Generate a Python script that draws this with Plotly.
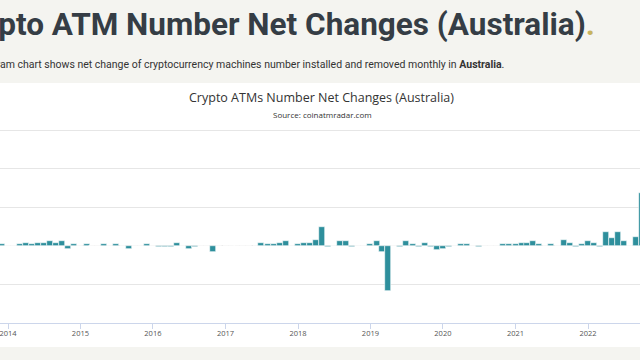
import plotly.graph_objects as go
import pandas as pd

# ---- data (monthly net change of crypto ATMs, Australia) ----
months = [
    "2013-12-01",
    "2014-01-01", "2014-02-01", "2014-03-01", "2014-04-01", "2014-05-01", "2014-06-01",
    "2014-07-01", "2014-08-01", "2014-09-01", "2014-10-01", "2014-11-01", "2014-12-01",
    "2015-01-01", "2015-02-01", "2015-03-01", "2015-04-01", "2015-05-01", "2015-06-01",
    "2015-07-01", "2015-08-01", "2015-09-01", "2015-10-01", "2015-11-01", "2015-12-01",
    "2016-01-01", "2016-02-01", "2016-03-01", "2016-04-01", "2016-05-01", "2016-06-01",
    "2016-07-01", "2016-08-01", "2016-09-01", "2016-10-01", "2016-11-01", "2016-12-01",
    "2017-01-01", "2017-02-01", "2017-03-01", "2017-04-01", "2017-05-01", "2017-06-01",
    "2017-07-01", "2017-08-01", "2017-09-01", "2017-10-01", "2017-11-01", "2017-12-01",
    "2018-01-01", "2018-02-01", "2018-03-01", "2018-04-01", "2018-05-01", "2018-06-01",
    "2018-07-01", "2018-08-01", "2018-09-01", "2018-10-01", "2018-11-01", "2018-12-01",
    "2019-01-01", "2019-02-01", "2019-03-01", "2019-04-01", "2019-05-01", "2019-06-01",
    "2019-07-01", "2019-08-01", "2019-09-01", "2019-10-01", "2019-11-01", "2019-12-01",
    "2020-01-01", "2020-02-01", "2020-03-01", "2020-04-01", "2020-05-01", "2020-06-01",
    "2020-07-01", "2020-08-01", "2020-09-01", "2020-10-01", "2020-11-01", "2020-12-01",
    "2021-01-01", "2021-02-01", "2021-03-01", "2021-04-01", "2021-05-01", "2021-06-01",
    "2021-07-01", "2021-08-01", "2021-09-01", "2021-10-01", "2021-11-01", "2021-12-01",
    "2022-01-01", "2022-02-01", "2022-03-01", "2022-04-01", "2022-05-01", "2022-06-01",
    "2022-07-01", "2022-08-01", "2022-09-01", "2022-10-01",
]
net_change = [
    1,
    0, 0, 1, 2, 1, 2, 2, 3, 2, 3, -2, 1,
    0, 1, 0, 0, 1, 0, 1, 0, -2, 0, 0, 1,
    0, -1, -1, -1, 2, 0, -2, -1, 0, 0, -4, 0,
    0, 0, 0, 0, 0, 0, 2, 1, 1, 2, 3, 0,
    1, 2, 2, 4, 12, -1, 0, 3, 3, -1, 0, 0,
    1, 3, -4, -29, 0, -1, 3, 1, -1, 2, -1, -3,
    -2, -1, 0, 1, 1, 0, -1, 0, 0, 0, 1, 1,
    1, 2, 2, 3, 1, 0, 1, 0, 4, 2, -1, 1,
    3, 2, -1, 9, 5, 9, 3, 0, 6, 34,
]
year_ticks = ["2014-01-01", "2015-01-01", "2016-01-01", "2017-01-01", "2018-01-01",
              "2019-01-01", "2020-01-01", "2021-01-01", "2022-01-01"]
year_labels = ["2014", "2015", "2016", "2017", "2018", "2019", "2020", "2021", "2022"]

page_title = "Crypto ATM Number Net Changes (Australia)"
page_sub = ("This histogram chart shows net change of cryptocurrency machines number "
            "installed and removed monthly in <b>Australia</b>.")
chart_title = "Crypto ATMs Number Net Changes (Australia)"
chart_source = "Source: coinatmradar.com"

# ---- layout geometry ----
W, H = 640, 360
ML, MR, MT, MB = 0, 0, 124, 37
PH = H - MT - MB
k = 193.0 / 125.0          # px per unit (gridlines every 25 units, ~38.6 px)
y_bottom = -50
y_top = y_bottom + PH / k


def py(p):
    return (H - MB - p) / PH


def px(p):
    return (p - ML) / (W - ML - MR)


# x range: 2014-01-01 at 8px, 2022-01-01 at 588px
t0 = pd.Timestamp("2014-01-01")
t1 = pd.Timestamp("2022-01-01")
per_px = (t1 - t0) / (588 - 8)
x_left = t0 - per_px * (8 - ML)
x_right = t1 + per_px * (W - MR - 588)

bar_w = pd.Timedelta(days=30.4).total_seconds() * 1000

fig = go.Figure()
fig.add_trace(go.Bar(
    x=months, y=net_change,
    width=bar_w,
    marker=dict(color="#2e8f9c", line=dict(color="#ffffff", width=0.6)),
    hoverinfo="x+y",
))

fig.update_layout(
    width=W, height=H,
    margin=dict(l=ML, r=MR, t=MT, b=MB, pad=0, autoexpand=False),
    paper_bgcolor="#f4f4f0",
    plot_bgcolor="#ffffff",
    showlegend=False,
    bargap=0,
    font=dict(family="Open Sans", color="#333333"),
    xaxis=dict(
        type="date",
        range=[x_left, x_right],
        tickmode="array", tickvals=year_ticks, ticktext=year_labels,
        ticks="outside", ticklen=5, tickcolor="#ccd6eb", tickwidth=1,
        showline=True, linecolor="#ccd6eb", linewidth=1,
        showgrid=False, zeroline=False,
        ticklabeloverflow="allow",
        ticklabelstandoff=-2,
        tickfont=dict(family="Open Sans", size=7.5, color="#555555"),
    ),
    yaxis=dict(
        range=[y_bottom, y_top], dtick=25, tick0=0,
        showticklabels=False, ticks="",
        showgrid=True, gridcolor="#e6e6e6", gridwidth=1,
        zeroline=True, zerolinecolor="#e6e6e6", zerolinewidth=1,
        showline=False,
    ),
    shapes=[
        dict(type="rect", xref="paper", yref="paper", layer="below",
             x0=px(-10), x1=px(W + 10), y0=py(347), y1=py(83),
             fillcolor="#ffffff", line=dict(width=0)),
    ],
    annotations=[
        dict(text="<b>" + page_title + "</b><b><span style='color:#c7b35f'>.</span></b>",
             xref="paper", yref="paper", x=px(597), y=py(24),
             xanchor="right", yanchor="middle", showarrow=False,
             font=dict(family="Roboto", size=31.5, color="#353d45")),
        dict(text=page_sub,
             xref="paper", yref="paper", x=px(506), y=py(65),
             xanchor="right", yanchor="middle", showarrow=False,
             font=dict(family="Roboto", size=10.5, color="#333333")),
        dict(text=chart_title,
             xref="paper", yref="paper", x=px(321), y=py(97),
             xanchor="center", yanchor="middle", showarrow=False,
             font=dict(family="Open Sans", size=12.5, color="#333333")),
        dict(text=chart_source,
             xref="paper", yref="paper", x=px(322), y=py(115),
             xanchor="center", yanchor="middle", showarrow=False,
             font=dict(family="Open Sans", size=8, color="#333333")),
    ],
)

fig.write_html(
    "out.html",
    config={"displayModeBar": False},
    post_script="document.body.style.margin='0';document.body.style.padding='0';",
)
